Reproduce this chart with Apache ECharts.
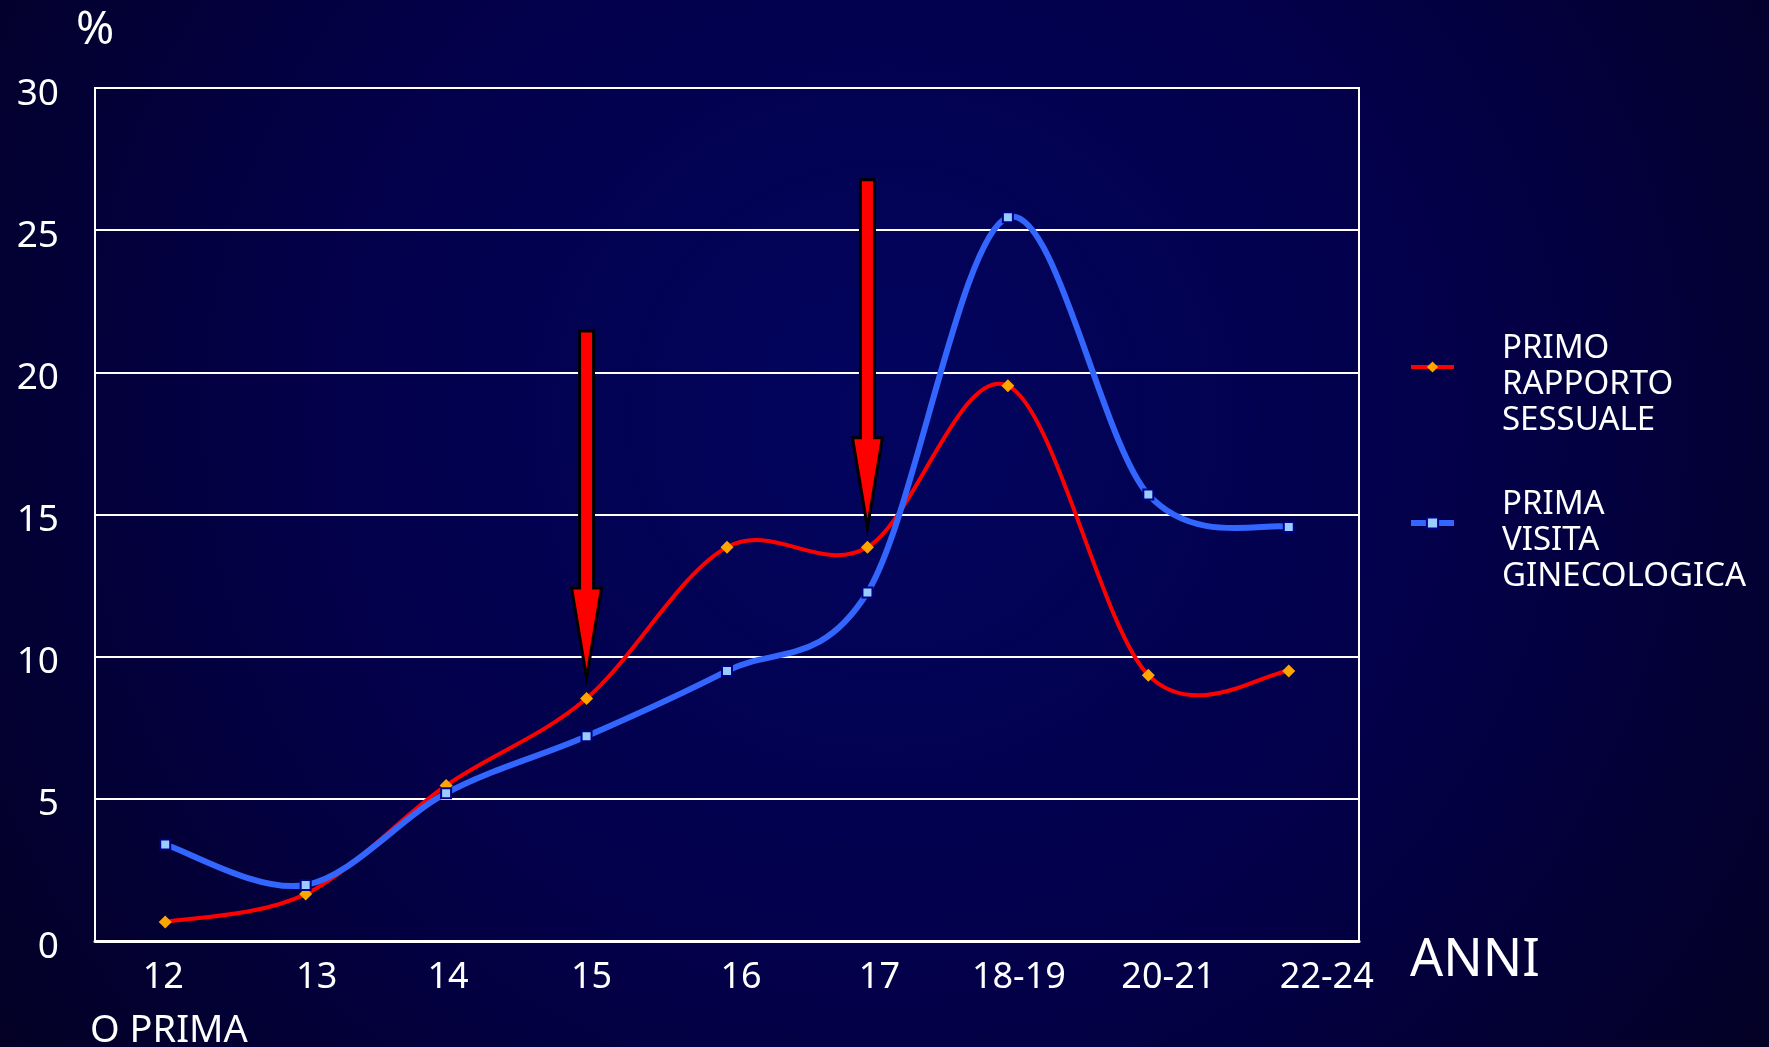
<!DOCTYPE html>
<html>
<head>
<meta charset="utf-8">
<title>Primo rapporto / prima visita</title>
<script src="https://cdn.jsdelivr.net/npm/echarts@6/dist/echarts.min.js"></script>
<style>
  html, body { margin: 0; padding: 0; background: #03002e; }
  #main { width: 1769px; height: 1047px; }
</style>
</head>
<body>
<div id="main"></div>
<script>
// età (anni) e percentuali
var categories = ['12', '13', '14', '15', '16', '17', '18-19', '20-21', '22-24'];
var primoRapporto = [0.67, 1.65, 5.47, 8.53, 13.85, 13.85, 19.53, 9.35, 9.5];
var primaVisita = [3.39, 1.97, 5.2, 7.2, 9.5, 12.26, 25.45, 15.7, 14.56];
// frecce: categoria, valore di partenza, valore della punta
var arrows = [['15', 21.45, 9.25], ['17', 26.77, 14.53]];

var font = 'Noto Sans';
// nell'originale le etichette dell'asse x sono un po' spostate a destra
var labelShift = [-2, 11, 2, 5, 14, 12, 11, 20, 38];

var myChart = echarts.init(document.getElementById('main'));

// curva morbida tipo Excel (catmull-rom), il line di echarts taglia gli overshoot
function curve(values, color, width) {
  return function (params, api) {
    var i = params.dataIndex;
    if (i >= values.length - 1) return null;
    var p = function (k) {
      k = Math.max(0, Math.min(values.length - 1, k));
      return api.coord([k, values[k]]);
    };
    var p0 = p(i - 1), p1 = p(i), p2 = p(i + 1), p3 = p(i + 2);
    var t = 1 / 6;
    return {
      type: 'bezierCurve',
      shape: {
        x1: p1[0], y1: p1[1], x2: p2[0], y2: p2[1],
        cpx1: p1[0] + (p2[0] - p0[0]) * t, cpy1: p1[1] + (p2[1] - p0[1]) * t,
        cpx2: p2[0] - (p3[0] - p1[0]) * t, cpy2: p2[1] - (p3[1] - p1[1]) * t
      },
      style: {stroke: color, lineWidth: width, fill: 'none', lineCap: 'round'}
    };
  };
}

function indexed(values) {
  return values.map(function (v, i) { return [i, v]; });
}

var labelRich = {};
labelShift.forEach(function (s, i) {
  labelRich['c' + i] = {
    color: '#ffffff', fontFamily: font, fontSize: 36,
    padding: s >= 0 ? [0, 0, 0, 2 * s] : [0, -2 * s, 0, 0]
  };
});

myChart.setOption({
  backgroundColor: {
    type: 'radial', x: 0.5, y: 0.4, r: 1.05,
    colorStops: [
      {offset: 0, color: '#02045f'},
      {offset: 0.55, color: '#030048'},
      {offset: 1, color: '#040024'}
    ]
  },
  animation: false,
  grid: {
    left: 95, right: 410, top: 88, bottom: 106,
    show: true, borderColor: '#ffffff', borderWidth: 2
  },
  legend: {
    data: [
      {name: 'PRIMO RAPPORTO SESSUALE', lineStyle: {opacity: 1, width: 4}},
      {name: 'PRIMA VISITA GINECOLOGICA', lineStyle: {opacity: 1, width: 6}}
    ],
    orient: 'vertical',
    left: 1408, top: 295,
    padding: 0,
    itemGap: 12,
    itemWidth: 43, itemHeight: 14,
    formatter: function (name) {
      // riga vuota in testa: il testo scende sotto il simbolo come nell'originale
      return '\n' + name.split(' ').join('\n');
    },
    textStyle: {
      color: '#ffffff', fontFamily: font, fontSize: 33,
      lineHeight: 36, padding: [0, 0, 0, 43]
    }
  },
  xAxis: {
    type: 'category',
    data: categories,
    name: '\nANNI',
    nameLocation: 'end',
    nameGap: 51,
    nameTextStyle: {color: '#ffffff', fontFamily: font, fontSize: 52, lineHeight: 40},
    axisLine: {lineStyle: {color: '#ffffff', width: 3}},
    axisTick: {inside: true, length: 6, lineStyle: {color: '#ffffff', width: 2}},
    axisLabel: {
      interval: 0,
      color: '#ffffff', fontFamily: font, fontSize: 36, margin: 19,
      formatter: function (v, i) { return '{c' + i + '|' + v + '}'; },
      rich: labelRich
    }
  },
  yAxis: {
    type: 'value',
    min: 0, max: 30, interval: 5,
    name: '%',
    nameLocation: 'end',
    nameGap: 34,
    nameTextStyle: {color: '#ffffff', fontFamily: font, fontSize: 46},
    axisLine: {show: false},
    axisTick: {show: false},
    axisLabel: {
      color: '#ffffff', fontFamily: font, fontSize: 37, margin: 36,
      verticalAlign: 'top', lineHeight: 12
    },
    splitLine: {lineStyle: {color: '#ffffff', width: 2}}
  },
  series: [{
    type: 'custom',
    data: indexed(primoRapporto),
    renderItem: curve(primoRapporto, '#ff0000', 4),
    z: 2
  }, {
    type: 'custom',
    data: indexed(primaVisita),
    renderItem: curve(primaVisita, '#3366ff', 6),
    z: 3
  }, {
    name: 'PRIMO RAPPORTO SESSUALE',
    type: 'line',
    data: primoRapporto,
    symbol: 'diamond',
    symbolSize: 13,
    itemStyle: {color: '#ffa500'},
    lineStyle: {color: '#ff0000', width: 4, opacity: 0},
    z: 4
  }, {
    name: 'PRIMA VISITA GINECOLOGICA',
    type: 'line',
    data: primaVisita,
    symbol: 'rect',
    symbolSize: 10,
    itemStyle: {color: '#99ccff', borderColor: '#000080', borderWidth: 2},
    lineStyle: {color: '#3366ff', width: 6, opacity: 0},
    z: 4
  }, {
    type: 'custom',
    data: arrows,
    z: 5,
    renderItem: function (params, api) {
      var top = api.coord([api.value(0), api.value(1)]);
      var tip = api.coord([api.value(0), api.value(2)]);
      var x = tip[0], sw = 7, hw = 15, hl = 90;
      var hy = tip[1] - hl;
      return {
        type: 'polygon',
        shape: {points: [[x - sw, top[1]], [x + sw, top[1]], [x + sw, hy], [x + hw, hy],
          [x, tip[1]], [x - hw, hy], [x - sw, hy]]},
        style: {fill: '#ff0000', stroke: '#000000', lineWidth: 3, lineJoin: 'miter'}
      };
    }
  }],
  graphic: [{
    type: 'text', left: 90, top: 1012,
    style: {text: 'O PRIMA', fill: '#ffffff', fontFamily: font, fontSize: 38}
  }]
});
</script>
</body>
</html>
